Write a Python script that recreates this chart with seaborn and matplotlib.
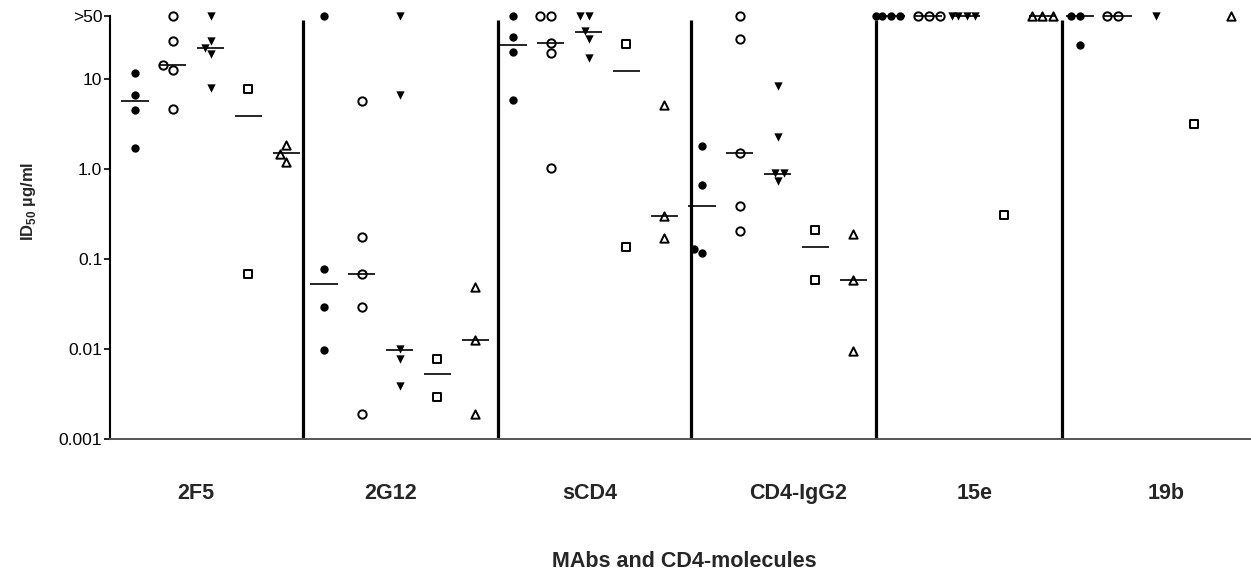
import numpy as np
import pandas as pd
import matplotlib
matplotlib.use("Agg")
import matplotlib.pyplot as plt
import matplotlib.transforms as mtransforms
import seaborn as sns


# -------------------- DATA --------------------
groups = ["2F5", "2G12", "sCD4", "CD4-IgG2", "15e", "19b"]

# ID50 values (ug/ml) per group, one list per symbol; 50 stands for ">50"
closed_circle = [
    [11.6, 6.6, 4.6, 1.7],
    [50, 0.078, 0.029, 0.0097],
    [50, 29.5, 20.1, 5.8],
    [1.79, 0.66, 0.128, 0.117],
    [50, 50, 50, 50],
    [50, 50, 24.3],
]
open_circle = [
    [50, 26.4, 14.3, 12.5, 4.7],
    [5.7, 0.175, 0.068, 0.029, 0.0019],
    [50, 50, 25.3, 19.3, 1.02],
    [50, 28.0, 1.51, 0.39, 0.205],
    [50, 50, 50],
    [50, 50],
]
down_triangle = [
    [50, 26.4, 22.3, 19.1, 8.0],
    [50, 6.6, 0.0101, 0.0078, 0.0039],
    [50, 50, 34.0, 28.0, 17.3],
    [8.4, 2.27, 0.91, 0.91, 0.74],
    [50, 50, 50, 50],
    [50],
]
open_square = [
    [7.7, 0.069],
    [0.0078, 0.0029],
    [24.7, 0.136],
    [0.212, 0.059],
    [0.31],
    [3.14],
]
up_triangle = [
    [1.85, 1.48, 1.2],
    [0.049, 0.0126, 0.0019],
    [5.2, 0.30, 0.172],
    [0.19, 0.058, 0.0095],
    [50, 50, 50],
    [50],
]

# median bars (None = no bar drawn)
closed_circle_med = [5.65, 0.053, 24.3, 0.39, 50, 50]
open_circle_med = [14.3, 0.068, 25.3, 1.51, 50, 50]
down_triangle_med = [22.1, 0.0097, 33.8, 0.89, 50, None]
open_square_med = [3.85, 0.0053, 12.3, 0.135, None, None]
up_triangle_med = [1.51, 0.0126, 0.30, 0.058, 50, None]

ytick_vals = [0.001, 0.01, 0.1, 1, 10, 50]
ytick_labels = ["0.001", "0.01", "0.1", "1.0", "10", ">50"]


# -------------------- BUILD TABLE --------------------
series = [
    ("closed_circle", closed_circle, closed_circle_med, "o", "black", 0.0),
    ("open_circle", open_circle, open_circle_med, "o", "white", 1.4),
    ("down_triangle", down_triangle, down_triangle_med, "v", "black", 0.0),
    ("open_square", open_square, open_square_med, "s", "white", 1.4),
    ("up_triangle", up_triangle, up_triangle_med, "^", "white", 1.4),
]
n_ser = len(series)

col_order = [f"{g}|{s[0]}" for g in groups for s in series]

rows = []
for s_name, vals, _, _, _, _ in series:
    for g, group_vals in zip(groups, vals):
        for v in group_vals:
            rows.append({"col": f"{g}|{s_name}", "series": s_name, "value": v})
df = pd.DataFrame(rows)


# -------------------- PLOT --------------------
sns.set_style("ticks")
plt.rcParams["font.family"] = ["Liberation Sans", "DejaVu Sans"]
plt.rcParams["mathtext.fontset"] = "custom"
plt.rcParams["mathtext.bf"] = "Liberation Sans:bold"
plt.rcParams["mathtext.rm"] = "Liberation Sans"

fig = plt.figure(figsize=(12.51, 5.78), dpi=100)
ax = fig.add_axes([0.0879, 0.2405, 0.9121, 0.7436])
ax.set_yscale("log")

for s_name, _, _, mk, fill, lw in series:
    sub = df[df["series"] == s_name]
    sns.swarmplot(
        data=sub, x="col", y="value", order=col_order,
        marker=mk, color=fill, edgecolor="black", linewidth=lw,
        size=6.0, ax=ax, clip_on=False, zorder=3, warn_thresh=1,
    )

# median bars
for j, (_, _, meds, _, _, _) in enumerate(series):
    for i, m in enumerate(meds):
        if m is None:
            continue
        pos = i * n_ser + j
        ax.hlines(m, pos - 0.36, pos + 0.36, color="black", lw=1.2,
                  zorder=4, clip_on=False)

# group dividers
divider_pos = [4.44, 9.6, 14.71, 19.6, 24.52]
ax.vlines(divider_pos, 0.001, 45, color="black", lw=2.3, zorder=2)

ax.set_ylim(0.001, 60)
ax.set_xlim(-0.66, 29.52)

ax.set_yticks(ytick_vals)
ax.set_yticklabels(ytick_labels)
ax.yaxis.set_minor_locator(matplotlib.ticker.NullLocator())
ax.tick_params(axis="y", length=4, width=1.2, pad=1.5, labelsize=12.5,
               color="black", labelcolor="black")
ax.set_xticks([])
ax.set_xlabel("")
ax.set_ylabel("")

for side in ["top", "right"]:
    ax.spines[side].set_visible(False)
ax.spines["left"].set_bounds(0.001, 50)
ax.spines["left"].set_linewidth(1.5)
ax.spines["left"].set_color("black")
ax.spines["bottom"].set_linewidth(1.4)
ax.spines["bottom"].set_color("#555555")

# group labels
label_pos = [1.61, 6.77, 12.04, 17.54, 22.22, 27.28]
trans = mtransforms.blended_transform_factory(ax.transData, fig.transFigure)
for g, xp in zip(groups, label_pos):
    ax.text(xp, 1 - 499 / 578, g, transform=trans, ha="center", va="baseline",
            fontsize=15.5, fontweight="bold")

fig.text(684 / 1251, 1 - 567 / 578, "MAbs and CD4-molecules", ha="center",
         va="baseline", fontsize=15.5, fontweight="bold")
fig.text(29 / 1251, 1 - 201 / 578, r"ID$_{\mathbf{50}}$ µg/ml", rotation=90,
         ha="center", va="center", fontsize=12, fontweight="bold")

fig.savefig("out.png", dpi=100, facecolor="white")
